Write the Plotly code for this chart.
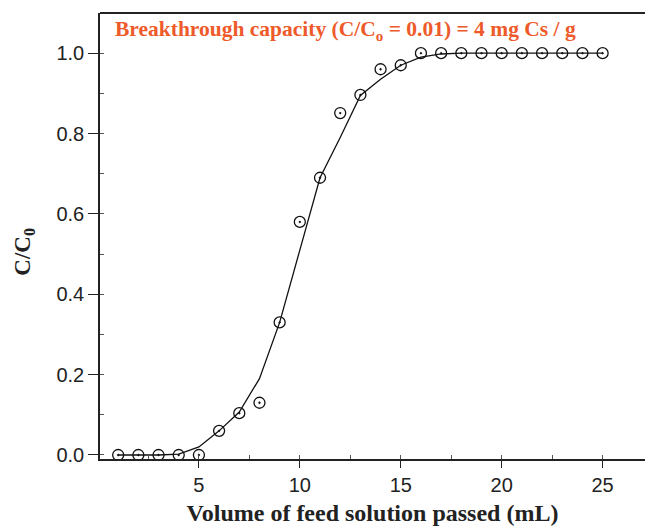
import plotly.graph_objects as go

volume_ml = [1, 2, 3, 4, 5, 6, 7, 8, 9, 10, 11, 12, 13, 14, 15, 16, 17, 18, 19, 20, 21, 22, 23, 24, 25]
c_over_c0 = [0.0, 0.0, 0.0, 0.0, 0.0, 0.06, 0.104, 0.13, 0.33, 0.58, 0.69, 0.851, 0.896, 0.96, 0.97,
             1.0, 1.0, 1.0, 1.0, 1.0, 1.0, 1.0, 1.0, 1.0, 1.0]
fit_c_over_c0 = [0.0, 0.0, 0.0, 0.002, 0.02, 0.06, 0.107, 0.19, 0.33, 0.51, 0.69, 0.79, 0.895, 0.935,
                 0.97, 0.99, 0.998, 1.0, 1.0, 1.0, 1.0, 1.0, 1.0, 1.0, 1.0]
x_ticks = [5, 10, 15, 20, 25]
y_ticks = [0.0, 0.2, 0.4, 0.6, 0.8, 1.0]
y_tick_labels = ["0.0", "0.2", "0.4", "0.6", "0.8", "1.0"]

fig = go.Figure()
fig.add_trace(go.Scatter(x=volume_ml, y=fit_c_over_c0, mode="lines",
                         line=dict(color="#111111", width=1.3), showlegend=False, hoverinfo="skip"))
fig.add_trace(go.Scatter(x=volume_ml, y=c_over_c0, mode="markers",
                         marker=dict(symbol="circle-open-dot", size=11, color="#111111",
                                     line=dict(width=1.3, color="#111111")),
                         showlegend=False))

serif = "Liberation Serif, Times New Roman, serif"
sans = "Liberation Sans, Arial, sans-serif"

fig.update_layout(
    width=645, height=528,
    margin=dict(l=100, r=0, t=13, b=69),
    plot_bgcolor="white", paper_bgcolor="white",
    xaxis=dict(range=[0.1, 27.1], tickvals=x_ticks, ticks="outside", ticklen=7, tickwidth=1.3,
               tickcolor="#222", showline=True, linecolor="#222", linewidth=1.6, mirror=False,
               showgrid=False, zeroline=False,
               tickfont=dict(family=sans, size=20, color="#222"),
               minor=dict(dtick=2.5, tick0=0, ticks="inside", ticklen=4, tickcolor="#555", tickwidth=1),
               title=dict(text="<b>Volume of feed solution passed (mL)</b>", standoff=9,
                          font=dict(family=serif, size=24, color="#222"))),
    yaxis=dict(range=[-0.01, 1.1], tickvals=y_ticks, ticktext=y_tick_labels, ticks="outside",
               ticklen=10, tickwidth=1.3, tickcolor="#222", showline=True, linecolor="#222",
               linewidth=1.6, showgrid=False, zeroline=False,
               tickfont=dict(family=sans, size=20, color="#222"),
               minor=dict(dtick=0.1, tick0=0, ticks="inside", ticklen=4, tickcolor="#555", tickwidth=1)),
)
# top frame line (right edge of frame lies outside the picture)
fig.add_shape(type="line", xref="paper", yref="paper", x0=0, x1=1.02, y0=1, y1=1,
              line=dict(color="#222", width=2))
fig.add_annotation(xref="paper", yref="paper", x=0.024, y=0.96, xanchor="left", yanchor="middle",
                   text="<b>Breakthrough capacity (C/C<sub>o</sub> = 0.01) = 4 mg Cs / g</b>",
                   showarrow=False, font=dict(family=serif, size=21.5, color="#EE5A2A"))
fig.add_annotation(xref="paper", yref="paper", x=-0.14, y=(459 - 252) / 446, xanchor="center",
                   yanchor="middle", textangle=-90, text="<b>C/C<sub>0</sub></b>", showarrow=False,
                   font=dict(family=serif, size=23, color="#222"))

fig.write_html("out.html")
